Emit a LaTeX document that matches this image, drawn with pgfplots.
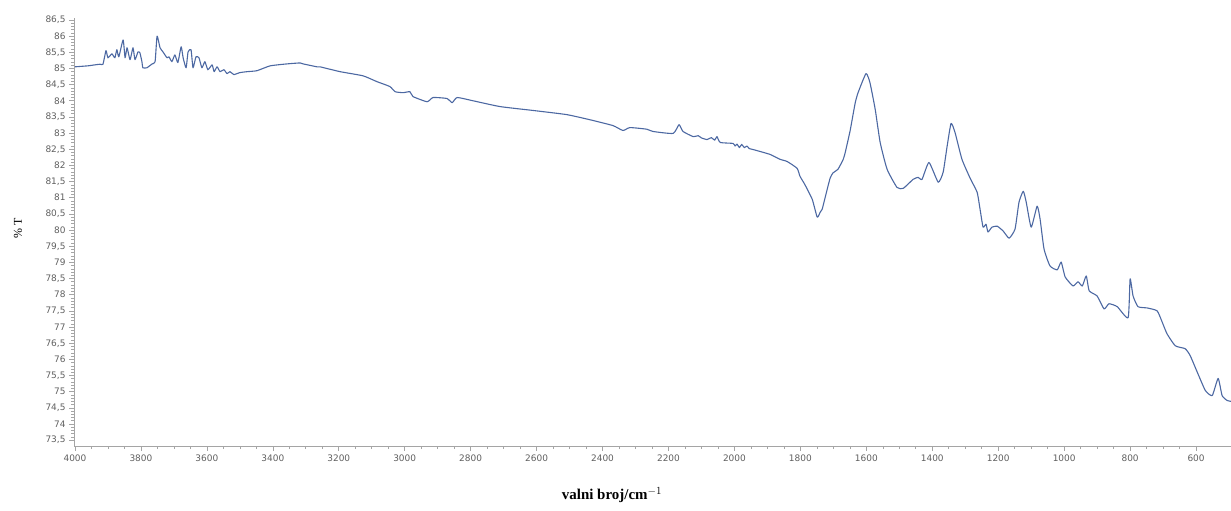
\documentclass[border=0pt]{standalone}
\usepackage{fontspec}
\setmainfont{Liberation Serif}
\newfontfamily\ticksans{DejaVu Sans}
\usepackage{pgfplots}
\pgfplotsset{compat=1.18}

\definecolor{specblue}{RGB}{76,104,162}
\definecolor{axisgray}{RGB}{165,165,165}
\definecolor{ticktext}{RGB}{95,95,95}

% IR transmittance spectrum (wavenumber / cm^-1, %T)
\pgfplotstableread{
x y
4000 85.05
3961 85.08
3940 85.11
3924 85.13
3915 85.13
3906 85.55
3900 85.33
3888 85.45
3879 85.33
3873 85.58
3867 85.36
3854 85.88
3848 85.33
3842 85.64
3833 85.27
3824 85.64
3818 85.27
3809 85.51
3803 85.48
3797 85.21
3794 85.02
3782 85.02
3766 85.14
3757 85.21
3751 86.00
3742 85.64
3733 85.51
3721 85.33
3715 85.36
3706 85.21
3697 85.42
3688 85.18
3678 85.67
3672 85.33
3663 85.02
3657 85.51
3648 85.58
3642 85.02
3633 85.36
3624 85.33
3615 85.02
3606 85.21
3597 84.96
3584 85.11
3578 84.90
3569 85.05
3560 84.90
3548 84.96
3539 84.84
3530 84.90
3518 84.81
3500 84.87
3478 84.90
3448 84.93
3408 85.08
3357 85.14
3317 85.17
3308 85.14
3266 85.05
3257 85.05
3196 84.90
3126 84.77
3084 84.59
3045 84.44
3029 84.28
3005 84.25
2984 84.28
2975 84.13
2932 83.97
2914 84.10
2872 84.07
2856 83.94
2841 84.10
2793 84.00
2711 83.82
2611 83.70
2508 83.57
2429 83.39
2368 83.23
2338 83.08
2317 83.17
2266 83.12
2247 83.05
2186 82.99
2168 83.26
2156 83.05
2125 82.89
2110 82.92
2100 82.85
2083 82.80
2070 82.86
2060 82.78
2053 82.89
2043 82.71
2004 82.68
1998 82.60
1992 82.66
1985 82.55
1978 82.65
1970 82.55
1962 82.60
1955 82.52
1943 82.49
1892 82.34
1862 82.19
1840 82.12
1810 81.91
1801 81.66
1786 81.40
1764 80.95
1749 80.40
1740 80.55
1734 80.64
1725 81.00
1710 81.60
1701 81.77
1686 81.88
1670 82.19
1664 82.40
1649 83.08
1634 83.92
1625 84.25
1601 84.84
1589 84.56
1573 83.73
1558 82.71
1537 81.88
1507 81.32
1488 81.29
1458 81.57
1443 81.63
1431 81.57
1410 82.09
1382 81.48
1367 81.79
1355 82.59
1343 83.30
1331 83.02
1310 82.19
1285 81.60
1264 81.17
1255 80.64
1246 80.09
1237 80.18
1231 79.94
1219 80.09
1203 80.12
1185 79.97
1167 79.75
1149 80.03
1137 80.86
1124 81.20
1115 80.86
1100 80.09
1082 80.74
1073 80.34
1061 79.41
1043 78.89
1021 78.77
1009 79.01
997 78.55
973 78.27
958 78.40
945 78.27
933 78.58
924 78.12
900 77.96
879 77.56
864 77.72
839 77.63
806 77.29
800 78.49
791 77.96
776 77.63
748 77.59
718 77.50
703 77.16
688 76.79
663 76.42
633 76.33
618 76.12
597 75.62
572 75.04
551 74.88
533 75.41
521 74.88
506 74.73
494 74.70
}\spectrum

\begin{document}
\begin{tikzpicture}
\useasboundingbox (-74bp,-65bp) rectangle (1157bp,446bp);
\begin{axis}[
  at={(0,0)}, anchor=south west,
  scale only axis, width=1157bp, height=428bp,
  x dir=reverse,
  xmin=494, xmax=4003, ymin=73.32, ymax=86.56,
  axis lines*=left,
  axis line style={axisgray, line width=0.8bp},
  xtick={600,800,...,4000},
  ytick={73.5,74,...,86.5},
  minor x tick num=3, minor y tick num=4,
  tick align=outside,
  major tick length=5bp, minor tick length=3bp,
  tick style={axisgray, line width=0.6bp},
  /pgf/number format/assume math mode=true,
  tick label style={font=\ticksans\fontsize{9}{11}\selectfont, text=ticktext},
  x tick label style={/pgf/number format/1000 sep={}},
  y tick label style={/pgf/number format/.cd, use comma, fixed, precision=1},
  xlabel={valni broj/cm$^{-1}$},
  ylabel={\% T},
  xlabel style={at={(axis description cs:0.465,-0.1145)}, anchor=center,
                font=\bfseries\fontsize{15}{17}\selectfont},
  ylabel style={at={(axis description cs:-0.0484,0.509)}, anchor=center,
                font=\fontsize{12}{14}\selectfont},
]
\addplot[color=specblue, line width=1.1bp, line join=round, smooth, tension=0.3]
  table[x=x, y=y] {\spectrum};
\end{axis}
\end{tikzpicture}
\end{document}
